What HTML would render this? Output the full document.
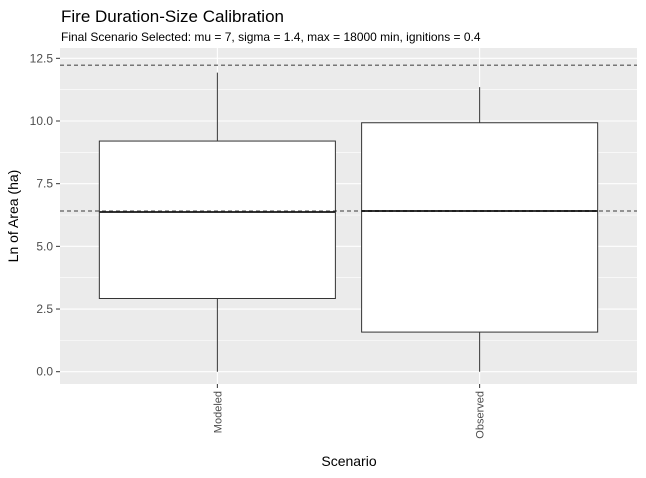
<!DOCTYPE html>
<html><head><meta charset="utf-8"><style>
body{margin:0;background:#fff;font-family:"Liberation Sans",Arial,sans-serif}
</style></head><body>
<svg id="chart" width="646" height="473" xmlns="http://www.w3.org/2000/svg" font-family="Liberation Sans, Arial, sans-serif">
<text x="61" y="22" font-size="17" fill="#000">Fire Duration-Size Calibration</text>
<text x="61" y="41" font-size="12" fill="#000">Final Scenario Selected: mu = 7, sigma = 1.4, max = 18000 min, ignitions = 0.4</text>
<rect x="60" y="48" width="577" height="336" fill="#ebebeb"/>
<g id="grid"></g>
<g id="marks"></g>
<g id="axes"></g>
<text x="349" y="466" font-size="14" text-anchor="middle" fill="#000">Scenario</text>
<text transform="translate(18,216) rotate(-90)" font-size="14" text-anchor="middle" fill="#000">Ln of Area (ha)</text>
</svg>
<script>
const categories=["Modeled","Observed"];
const lowerWhisker=[0,0];
const q1=[2.92,1.58];
const median=[6.37,6.41];
const q3=[9.2,9.93];
const upperWhisker=[11.93,11.35];
const refLines=[12.23,6.41];
const yTicks=[0,2.5,5,7.5,10,12.5];
const yTickLabels=["0.0","2.5","5.0","7.5","10.0","12.5"];

const NS="http://www.w3.org/2000/svg";
const L=60,R=637,T=48,B=384;
const y=v=>371.7-v*25.07;
const unit=(R-L)/(categories.length+0.2);
const xc=i=>L+unit*(i+0.6);
function mk(tag,attrs,parent){const e=document.createElementNS(NS,tag);for(const k in attrs)e.setAttribute(k,attrs[k]);parent.appendChild(e);return e;}
const grid=document.getElementById('grid'),marks=document.getElementById('marks'),axes=document.getElementById('axes');
for(let i=0;i<yTicks.length-1;i++){
  const m=(yTicks[i]+yTicks[i+1])/2;
  const g=mk('line',{x1:L,x2:R,y1:y(m),y2:y(m),stroke:'#fff','stroke-width':0.6},grid);
  
  
}
yTicks.forEach((t,i)=>{
  const g=mk('line',{x1:L,x2:R,y1:y(t),y2:y(t),stroke:'#fff','stroke-width':1.1},grid);
  
  
  const tk=mk('line',{x1:L-4,x2:L,y1:y(t),y2:y(t),stroke:'#333','stroke-width':1},axes);
  
  
  const tx=mk('text',{x:L-7,y:y(t)+4,'font-size':12,'text-anchor':'end',fill:'#4d4d4d'},axes);
  tx.textContent=yTickLabels[i];
  
  
});
categories.forEach((c,i)=>{
  const cx=xc(i);
  const g=mk('line',{x1:cx,x2:cx,y1:T,y2:B,stroke:'#fff','stroke-width':1.1},grid);
  
  
  const bw=unit*0.9;
  const wl=mk('line',{x1:cx,x2:cx,y1:y(upperWhisker[i]),y2:y(lowerWhisker[i]),stroke:'#333','stroke-width':1},marks);
  
  
  const bx=mk('rect',{x:cx-bw/2,y:y(q3[i]),width:bw,height:y(q1[i])-y(q3[i]),fill:'#fff',stroke:'#333','stroke-width':1},marks);
  
  
  const md=mk('line',{x1:cx-bw/2,x2:cx+bw/2,y1:y(median[i]),y2:y(median[i]),stroke:'#333','stroke-width':2},marks);
  
  
  const tk=mk('line',{x1:cx,x2:cx,y1:B,y2:B+4,stroke:'#333','stroke-width':1},axes);
  
  
  const tx=mk('text',{transform:`translate(${cx+4},${B+7}) rotate(-90)`,'font-size':11,'text-anchor':'end',fill:'#4d4d4d'},axes);
  tx.textContent=c;
  
  
});
refLines.forEach(v=>{
  const l=mk('line',{x1:L,x2:R,y1:y(v),y2:y(v),stroke:'#000','stroke-width':0.8,'stroke-dasharray':'4,3'},marks);
  
  
});
</script>
</body></html>
